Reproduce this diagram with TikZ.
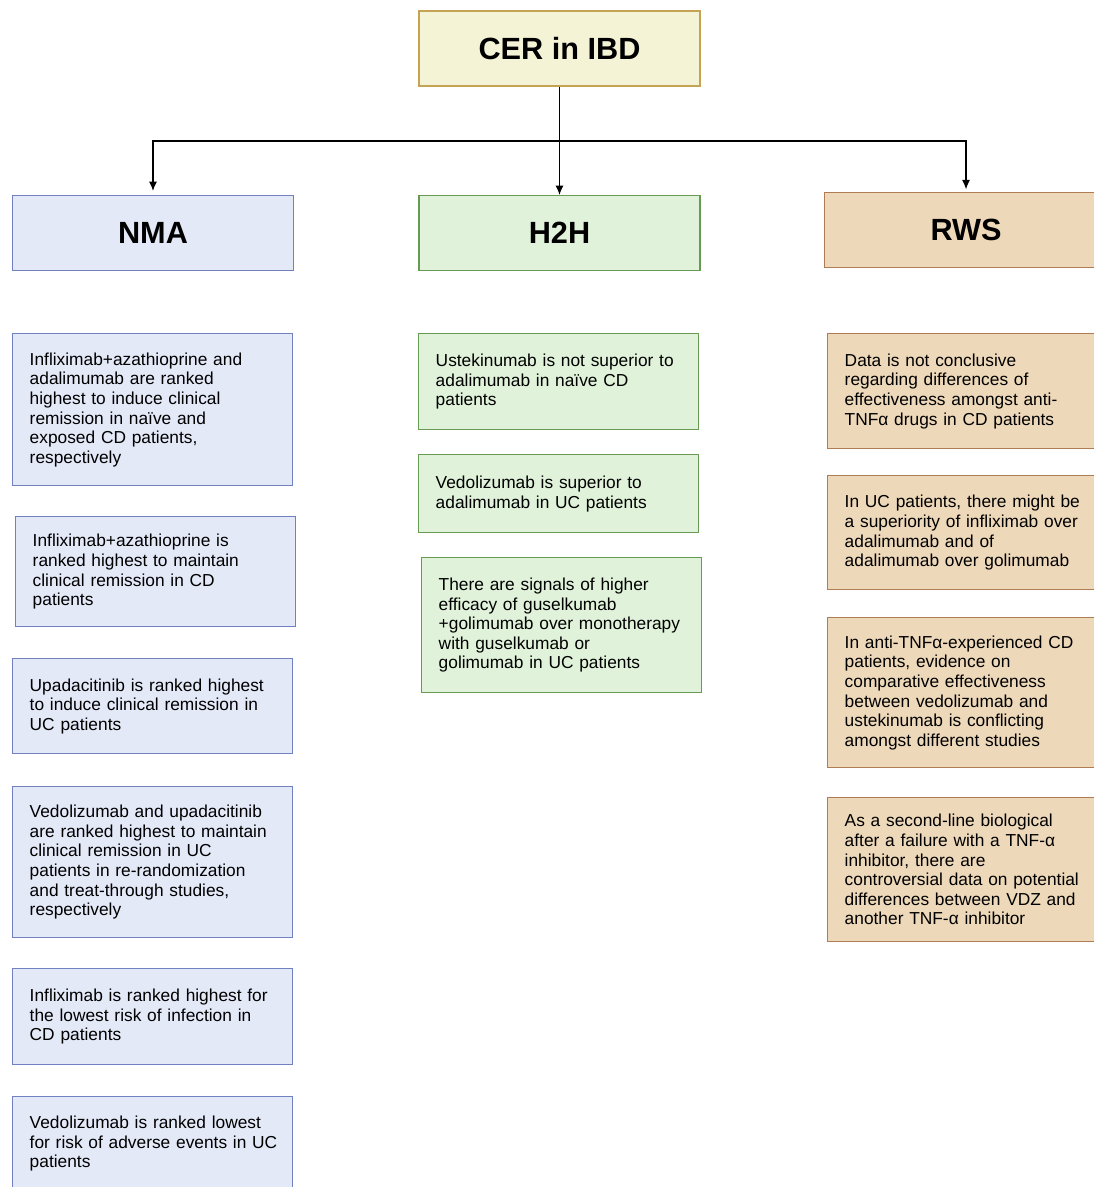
\documentclass[tikz,border=0pt]{standalone}
\usepackage{fontspec}
\setmainfont{Liberation Sans}
\usepackage{tikz}
\usetikzlibrary{shapes,arrows,arrows.meta}

\definecolor{cerfill}{RGB}{245,243,214}
\definecolor{cerline}{RGB}{196,164,84}
\definecolor{nmafill}{RGB}{228,233,248}
\definecolor{nmaline}{RGB}{112,128,192}
\definecolor{hhfill}{RGB}{224,242,218}
\definecolor{hhline}{RGB}{104,154,84}
\definecolor{rwsfill}{RGB}{237,216,185}
\definecolor{rwsline}{RGB}{176,124,84}

\begin{document}
\begin{tikzpicture}[x=0.75pt,y=-0.75pt,>={Latex[length=7pt,width=6pt]},
        head/.style={draw,line width=1.1pt,minimum width=211pt,minimum height=56pt,font=\fontsize{23}{27}\selectfont\bfseries},
        card/.style={draw,line width=1.1pt,anchor=north west,minimum width=210pt,inner xsep=12.75pt,text width=184.5pt,align=left,font=\fontsize{13}{14.7}\selectfont},
        nma/.style={card,fill=nmafill,draw=nmaline},
        hh/.style={card,fill=hhfill,draw=hhline},
        rws/.style={card,fill=rwsfill,draw=rwsline}
        ]
        \clip (0,0) rectangle (1094,1187);

        \node[head,fill=cerfill,draw=cerline] (cer) at (559.5,48.5) {CER in IBD};
        \node[head,fill=nmafill,draw=nmaline] (nma) at (153,233) {NMA};
        \node[head,fill=hhfill,draw=hhline] (h2h) at (559.5,233) {H2H};
        \node[head,fill=rwsfill,draw=rwsline,minimum width=212pt] (rws) at (966,230) {RWS};
        \coordinate (split) at (560,141);

        \node[nma,minimum height=114pt] (nma1) at (12,333) {Infliximab+azathioprine and\\ adalimumab are ranked\\ highest to induce clinical\\ remission in naïve and\\ exposed CD patients,\\ respectively};
        \node[nma,minimum height=82.5pt] (nma2) at (15,516) {Infliximab+azathioprine is\\ ranked highest to maintain\\ clinical remission in CD\\ patients};
        \node[nma,minimum height=71.25pt] (nma3) at (12,658) {Upadacitinib is ranked highest\\ to induce clinical remission in\\ UC patients};
        \node[nma,minimum height=113.25pt] (nma4) at (12,786) {Vedolizumab and upadacitinib\\ are ranked highest to maintain\\ clinical remission in UC\\ patients in re-randomization\\ and treat-through studies,\\ respectively};
        \node[nma,minimum height=72pt] (nma5) at (12,968) {Infliximab is ranked highest for\\ the lowest risk of infection in\\ CD patients};
        \node[nma,minimum height=70.5pt] (nma6) at (12,1096) {Vedolizumab is ranked lowest\\ \mbox{for risk of adverse events in UC}\\ patients};

        \node[hh,minimum height=72pt] (hh1) at (418,333) {Ustekinumab is not superior to\\ adalimumab in naïve CD\\ patients};
        \node[hh,minimum height=58.5pt] (hh2) at (418,454) {Vedolizumab is superior to\\ adalimumab in UC patients};
        \node[hh,minimum height=101.25pt] (hh3) at (421,557) {There are signals of higher\\ efficacy of guselkumab\\ \mbox{+golimumab over monotherapy}\\ with guselkumab or\\ golimumab in UC patients};

        \node[rws,minimum height=86.25pt] (rws1) at (827,333) {Data is not conclusive\\ regarding differences of\\ effectiveness amongst anti-\\ TNFα drugs in CD patients};
        \node[rws,minimum height=85.5pt] (rws2) at (827,475) {In UC patients, there might be\\ \mbox{a superiority of infliximab over}\\ adalimumab and of\\ adalimumab over golimumab};
        \node[rws,minimum height=112.5pt] (rws3) at (827,617) {In anti-TNFα-experienced CD\\ patients, evidence on\\ comparative effectiveness\\ between vedolizumab and\\ ustekinumab is conflicting\\ amongst different studies};
        \node[rws,minimum height=108pt] (rws4) at (827,797) {As a second-line biological\\ after a failure with a TNF-α\\ inhibitor, there are\\ \mbox{controversial data on potential}\\ differences between VDZ and\\ another TNF-α inhibitor};

        \draw[thick,->] (cer) to (h2h);
        \draw[thick,->,shorten >=3pt] (split) -| (nma);
        \draw[thick,->,shorten >=2pt] (split) -| (rws);

    \end{tikzpicture}
\end{document}
